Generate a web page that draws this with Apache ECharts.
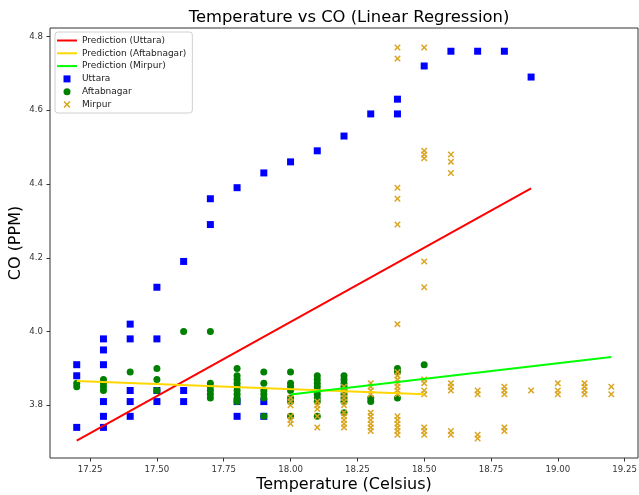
<!DOCTYPE html>
<html>
<head>
<meta charset="utf-8">
<script src="https://cdn.jsdelivr.net/npm/echarts@6/dist/echarts.min.js"></script>
<style>html,body{margin:0;padding:0;background:#fff}#c{width:639px;height:495px}</style>
</head>
<body>
<div id="c"></div>
<script>
// ---- data (temperature -> list of CO values) ----
const uttara = [
  [17.2, [3.91, 3.88, 3.74]],
  [17.3, [3.98, 3.95, 3.91, 3.81, 3.77, 3.74]],
  [17.4, [4.02, 3.98, 3.84, 3.81, 3.77]],
  [17.5, [4.12, 3.98, 3.84, 3.81]],
  [17.6, [4.19, 3.84, 3.81]],
  [17.7, [4.36, 4.29]],
  [17.8, [4.39, 3.81, 3.77]],
  [17.9, [4.43, 3.81, 3.77]],
  [18.0, [4.46]],
  [18.1, [4.49]],
  [18.2, [4.53]],
  [18.3, [4.59]],
  [18.4, [4.63, 4.59]],
  [18.5, [4.72]],
  [18.6, [4.76]],
  [18.7, [4.76]],
  [18.8, [4.76]],
  [18.9, [4.69]]
];
const aftabnagar = [
  [17.2, [3.86, 3.85]],
  [17.3, [3.87, 3.86, 3.85, 3.84]],
  [17.4, [3.89]],
  [17.5, [3.90, 3.87, 3.84]],
  [17.6, [4.00]],
  [17.7, [4.00, 3.86, 3.85, 3.84, 3.83, 3.82]],
  [17.8, [3.90, 3.88, 3.87, 3.86, 3.85, 3.84, 3.83, 3.82, 3.81]],
  [17.9, [3.89, 3.86, 3.84, 3.83, 3.82, 3.77]],
  [18.0, [3.89, 3.86, 3.85, 3.84, 3.82, 3.81, 3.77]],
  [18.1, [3.88, 3.87, 3.86, 3.85, 3.84, 3.83, 3.82, 3.81, 3.77]],
  [18.2, [3.88, 3.87, 3.86, 3.85, 3.84, 3.83, 3.82, 3.81, 3.78]],
  [18.3, [3.82, 3.81]],
  [18.4, [3.90, 3.89, 3.82]],
  [18.5, [3.91]]
];
const mirpur = [
  [18.0, [3.82, 3.81, 3.80, 3.77, 3.76, 3.75]],
  [18.1, [3.81, 3.80, 3.79, 3.77, 3.74]],
  [18.2, [3.85, 3.84, 3.83, 3.82, 3.81, 3.80, 3.78, 3.77, 3.76, 3.75, 3.74]],
  [18.3, [3.86, 3.85, 3.84, 3.83, 3.78, 3.77, 3.76, 3.75, 3.74, 3.73]],
  [18.4, [4.77, 4.74, 4.39, 4.36, 4.29, 4.02, 3.89, 3.88, 3.87, 3.86, 3.85, 3.84, 3.83, 3.77, 3.76, 3.75, 3.74, 3.73, 3.72]],
  [18.5, [4.77, 4.49, 4.48, 4.47, 4.19, 4.12, 3.87, 3.86, 3.84, 3.83, 3.74, 3.73, 3.72]],
  [18.6, [4.48, 4.46, 4.43, 3.86, 3.85, 3.84, 3.73, 3.72]],
  [18.7, [3.84, 3.83, 3.72, 3.71]],
  [18.8, [3.85, 3.84, 3.83, 3.74, 3.73]],
  [18.9, [3.84]],
  [19.0, [3.86, 3.84, 3.83]],
  [19.1, [3.86, 3.85, 3.84, 3.83]],
  [19.2, [3.85, 3.83]]
];
// regression line endpoints [temperature, predicted CO]
const predUttara = [[17.2, 3.704], [18.9, 4.388]];
const predAftabnagar = [[17.2, 3.866], [18.5, 3.830]];
const predMirpur = [[18.0, 3.829], [19.2, 3.931]];
// ticks
const xTicks = [17.25, 17.5, 17.75, 18.0, 18.25, 18.5, 18.75, 19.0, 19.25];
const yTicks = [3.8, 4.0, 4.2, 4.4, 4.6, 4.8];

function expand(groups) {
  const out = [];
  groups.forEach(g => g[1].forEach(v => out.push([g[0], v])));
  return out;
}

const FONT = 'DejaVu Sans';
const xMark = 'path://M0,1.6 L1.6,0 L5,3.4 L8.4,0 L10,1.6 L6.6,5 L10,8.4 L8.4,10 L5,6.6 L1.6,10 L0,8.4 L3.4,5 Z';
const lineIcon = 'path://M0,0 L20,0 L20,2 L0,2 Z';
const squareIcon = 'path://M0,0 L10,0 L10,10 L0,10 Z';

const chart = echarts.init(document.getElementById('c'), null, {renderer: 'canvas'});
chart.setOption({
  animation: false,
  backgroundColor: '#fff',
  textStyle: {fontFamily: FONT},
  title: {
    text: 'Temperature vs CO (Linear Regression)',
    left: 344, textAlign: 'center', top: 5,
    textStyle: {fontFamily: FONT, fontSize: 16.4, fontWeight: 'normal', color: '#000'}
  },
  grid: {left: 50, right: 1, top: 28, bottom: 37, show: true, borderColor: '#333', borderWidth: 1,
    backgroundColor: 'transparent', outerBoundsMode: 'none', containLabel: false},
  legend: {
    orient: 'vertical', left: 55, top: 32,
    padding: [4, 6, 4, 2],
    itemWidth: 20, itemHeight: 7, itemGap: 3.8,
    backgroundColor: '#fff', borderColor: '#d0d0d0', borderWidth: 1, borderRadius: 3,
    textStyle: {fontFamily: FONT, fontSize: 9, color: '#222'},
    data: [
      {name: 'Prediction (Uttara)', icon: lineIcon},
      {name: 'Prediction (Aftabnagar)', icon: lineIcon},
      {name: 'Prediction (Mirpur)', icon: lineIcon},
      {name: 'Uttara', icon: squareIcon},
      {name: 'Aftabnagar', icon: 'circle'},
      {name: 'Mirpur', icon: xMark}
    ]
  },
  xAxis: {
    type: 'value', min: 17.1, max: 19.3,
    name: 'Temperature (Celsius)', nameLocation: 'middle', nameGap: 19, nameMoveOverlap: false,
    nameTextStyle: {fontFamily: FONT, fontSize: 16, color: '#000'},
    axisLine: {show: false},
    axisTick: {show: true, length: 3.5, customValues: xTicks, lineStyle: {color: '#333'}},
    axisLabel: {customValues: xTicks, margin: 7, fontSize: 8.6, color: '#333', fontFamily: FONT,
      formatter: v => v.toFixed(2)},
    splitLine: {show: false}
  },
  yAxis: {
    type: 'value', min: 3.657, max: 4.823,
    name: 'CO (PPM)', nameLocation: 'middle', nameGap: 26, nameMoveOverlap: false,
    nameTextStyle: {fontFamily: FONT, fontSize: 16, color: '#000'},
    axisLine: {show: false},
    axisTick: {show: true, length: 3.5, customValues: yTicks, lineStyle: {color: '#333'}},
    axisLabel: {customValues: yTicks, margin: 7, fontSize: 8.6, color: '#333', fontFamily: FONT,
      formatter: v => v.toFixed(1)},
    splitLine: {show: false}
  },
  series: [
    {name: 'Uttara', type: 'scatter', symbol: 'rect', symbolSize: 7, z: 2,
      itemStyle: {color: '#0000ff', opacity: 1}, data: expand(uttara)},
    {name: 'Aftabnagar', type: 'scatter', symbol: 'circle', symbolSize: 7, z: 3,
      itemStyle: {color: '#008000', opacity: 1}, data: expand(aftabnagar)},
    {name: 'Mirpur', type: 'scatter', symbol: xMark, symbolSize: 6.5, z: 4,
      itemStyle: {color: '#DAA520', opacity: 1}, data: expand(mirpur)},
    {name: 'Prediction (Uttara)', type: 'line', symbol: 'none', z: 5,
      lineStyle: {color: '#ff0000', width: 2}, itemStyle: {color: '#ff0000'}, data: predUttara},
    {name: 'Prediction (Aftabnagar)', type: 'line', symbol: 'none', z: 5,
      lineStyle: {color: '#FFD700', width: 2}, itemStyle: {color: '#FFD700'}, data: predAftabnagar},
    {name: 'Prediction (Mirpur)', type: 'line', symbol: 'none', z: 5,
      lineStyle: {color: '#00FF00', width: 2}, itemStyle: {color: '#00FF00'}, data: predMirpur}
  ]
});
</script>
</body>
</html>
